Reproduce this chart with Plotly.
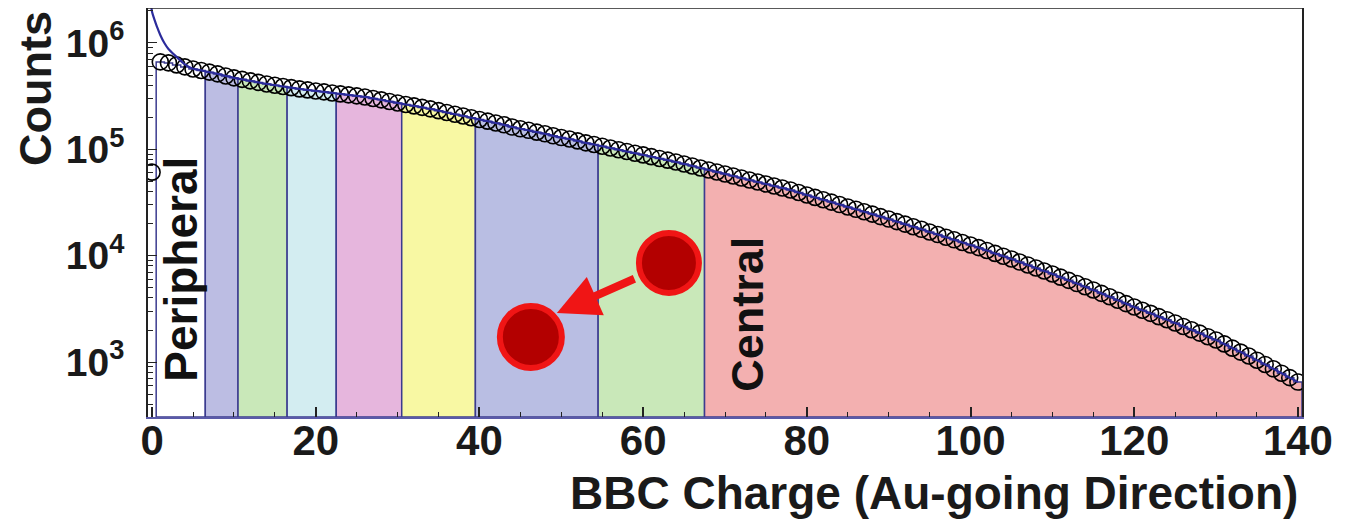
import plotly.graph_objects as go

# ---------------- data ----------------
bbc_charge = list(range(141))
counts = [
    61000, 664000, 650000, 622000, 596000, 570000, 552000, 532000, 512000, 490000,
    470000, 455000, 440000, 426000, 412000, 401000, 390000, 380000, 370000, 362000,
    354000, 347000, 339000, 332000, 325000, 318000, 311000, 301000, 292000, 282000,
    273000, 264000, 256000, 248000, 240000, 231000, 222000, 214000, 206000, 198000,
    191000, 184000, 177000, 170000, 162000, 156000, 151000, 145000, 140000, 134000,
    129000, 125000, 120000, 115000, 111000, 107000, 103000, 99200, 95500, 92000,
    88600, 85300, 82100, 79100, 76100, 72900, 69800, 66800, 64000, 61300,
    58700, 56200, 53800, 51500, 49300, 47200, 45200, 43300, 41500, 39300,
    37200, 35300, 33600, 31900, 30250, 28700, 27300, 25900, 24600, 23300,
    22100, 20900, 19800, 18700, 17700, 16700, 15800, 14900, 14100, 13300,
    12600, 11900, 11200, 10500, 9890, 9310, 8720, 8180, 7660, 7180,
    6730, 6280, 5860, 5470, 5100, 4760, 4420, 4110, 3810, 3540,
    3290, 3070, 2870, 2670, 2500, 2330, 2160, 2010, 1870, 1730,
    1610, 1480, 1350, 1240, 1140, 1040, 949, 863, 785, 713,
    648,
]
# fit curve: separate low-charge part, then follows the data
fit_low_x = [-0.1, 0.0, 0.3, 0.6, 1.0, 1.5, 2.0, 3.0, 4.0, 5.0]
fit_low_y = [2200000, 1960000, 1650000, 1420000, 1190000, 1000000, 878000, 740000, 630000, 573000]

# centrality class boundaries and colours
class_edges = [0.5, 6.5, 10.5, 16.5, 22.5, 30.5, 39.5, 54.5, 67.5, 140.5]
class_colors = ['#ffffff', '#bcbde3', '#c9e8b9', '#d3edf1', '#e6b6dd',
                '#f8f8a3', '#b9bee3', '#c9e8b9', '#f3b0b0']

x_tick_vals = [0, 20, 40, 60, 80, 100, 120, 140]
y_tick_exps = [3, 4, 5, 6]

X_RANGE = [-0.5, 140.5]
Y_RANGE = [2.483, 6.329]

FONT = 'Liberation Sans, Arial, Helvetica, sans-serif'
OUTLINE = '#3b3b8f'

fig = go.Figure()

ybot = 10 ** Y_RANGE[0]
for lo, hi, col in zip(class_edges[:-1], class_edges[1:], class_colors):
    xs, ys = [lo], [ybot]
    for xi, ci in zip(bbc_charge, counts):
        if lo < xi < hi:
            xs += [xi - 0.5, xi + 0.5]
            ys += [ci, ci]
    xs += [hi, lo]
    ys += [ybot, ybot]
    fig.add_trace(go.Scatter(x=xs, y=ys, mode='lines', fill='toself',
                             fillcolor=col, line=dict(color=OUTLINE, width=1.5),
                             hoverinfo='skip', showlegend=False))

# data points
fig.add_trace(go.Scatter(x=bbc_charge, y=counts, mode='markers',
                         marker=dict(symbol='circle-open', size=16,
                                     color='black', line=dict(width=1.6, color='black')),
                         showlegend=False))

# fit line
fit_x = fit_low_x + bbc_charge[6:]
fit_y = fit_low_y + counts[6:]
fig.add_trace(go.Scatter(x=fit_x, y=fit_y, mode='lines',
                         line=dict(color='#2b2b9b', width=2.2, shape='spline'),
                         showlegend=False))

minor_y = [m * 10 ** e for e in range(2, 7) for m in range(2, 10)]

fig.update_layout(
    width=1345, height=526,
    margin=dict(l=140, r=51, t=0, b=117),
    paper_bgcolor='white', plot_bgcolor='white',
    font=dict(family=FONT, color='#1a1a1a'),
    showlegend=False,
    xaxis=dict(range=X_RANGE, showgrid=False, zeroline=False,
               showline=True, linecolor='#5a5aa8', linewidth=2, mirror=False,
               ticks='inside', ticklen=10, tickwidth=1.5, tickcolor='#222',
               tickvals=x_tick_vals, ticktext=[str(v) for v in x_tick_vals],
               tickfont=dict(size=42, family=FONT, weight='bold', color='#1a1a1a'),
               ticklabelstandoff=-14,
               minor=dict(ticks='inside', ticklen=5, tickwidth=1.2, tickcolor='#222', dtick=5,
                          showgrid=False)),
    yaxis=dict(type='log', range=Y_RANGE, showgrid=False, zeroline=False,
               showline=True, linecolor='#222', linewidth=1.5, mirror=True,
               ticks='inside', ticklen=9, tickwidth=1.2, tickcolor='#222',
               tickvals=[10 ** e for e in y_tick_exps],
               ticktext=['<b>10<sup>%d</sup></b>' % e for e in y_tick_exps],
               tickfont=dict(size=39, family=FONT, color='#1a1a1a'),
               ticklabelstandoff=14,
               minor=dict(ticks='inside', ticklen=5, tickwidth=1, tickcolor='#222',
                          tickmode='array', tickvals=minor_y, showgrid=False)),
)

# top frame line
fig.add_shape(type='line', xref='paper', yref='paper', x0=0, x1=1, y0=1, y1=1,
              line=dict(color='#222', width=1.5), layer='above')

# axis titles
fig.add_annotation(text='<b>Counts</b>', xref='paper', yref='paper',
                   x=-0.0970, y=0.802, textangle=-90, showarrow=False,
                   xanchor='center', yanchor='middle',
                   font=dict(size=45, family=FONT, color='#1a1a1a'))
fig.add_annotation(text='<b>BBC Charge (Au-going Direction)</b>', xref='paper', yref='paper',
                   x=0.998, y=-0.186, showarrow=False, xanchor='right', yanchor='middle',
                   font=dict(size=46, family=FONT, color='#1a1a1a'))

# region labels
fig.add_annotation(text='<b>Peripheral</b>', xref='x', yref='paper', x=3.5, y=0.362,
                   textangle=-90, showarrow=False, xanchor='center', yanchor='middle',
                   font=dict(size=46, family=FONT, color='#111'))
fig.add_annotation(text='<b>Central</b>', xref='x', yref='paper', x=72.8, y=0.252,
                   textangle=-90, showarrow=False, xanchor='center', yanchor='middle',
                   font=dict(size=45, family=FONT, color='#111'))

# red circles and arrow
for cx, cy, r in [(63.15, 0.3765, 30), (46.28, 0.1956, 31)]:
    fig.add_shape(type='circle', xref='x', yref='paper', xsizemode='pixel', ysizemode='pixel',
                  xanchor=cx, yanchor=cy, x0=-r, x1=r, y0=-r, y1=r,
                  fillcolor='#b30000', line=dict(color='#f01515', width=6), layer='above')

fig.add_annotation(x=49.46, y=0.254, xref='x', yref='paper', text='', showarrow=True,
                   ax=79, ay=-35, arrowhead=2, arrowsize=1.05, arrowwidth=8,
                   arrowcolor='#f01515', standoff=0)

fig.write_html('out.html')
